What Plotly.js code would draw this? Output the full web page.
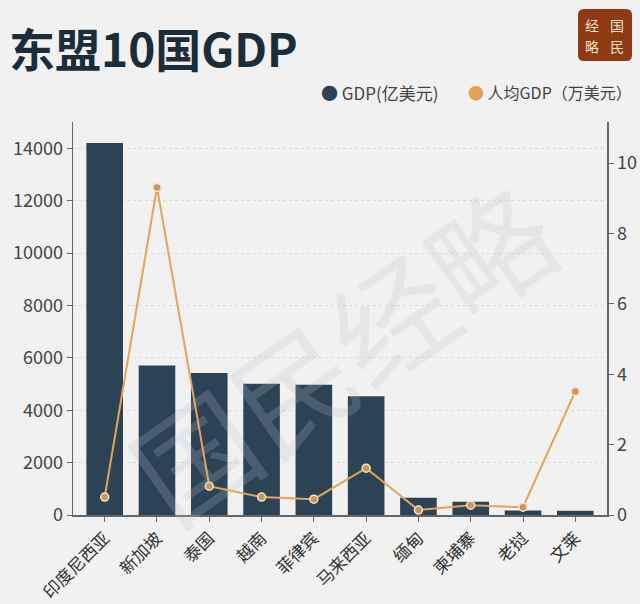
<!DOCTYPE html>
<html><head><meta charset="utf-8">
<script src="https://cdn.plot.ly/plotly-3.0.1.min.js"></script>
<style>html,body{margin:0;padding:0;background:#F1F1F1;}#chart{width:640px;height:604px;}</style>
</head><body><div id="chart"></div>
<script>
const categories = ['印度尼西亚','新加坡','泰国','越南','菲律宾','马来西亚','缅甸','柬埔寨','老挝','文莱'];
const gdpValues = [14200, 5710, 5420, 5010, 4970, 4530, 660, 510, 170, 165];
const perCapitaValues = [0.51, 9.31, 0.82, 0.51, 0.45, 1.33, 0.14, 0.28, 0.22, 3.51];
const seriesNames = ['GDP(亿美元)', '人均GDP（万美元）'];
const leftTicks = [0, 2000, 4000, 6000, 8000, 10000, 12000, 14000];
const rightTicks = [0, 2, 4, 6, 8, 10];

const font = 'Noto Sans CJK SC, Noto Sans, sans-serif';
const barColor = '#2C4356';
const lineColor = '#E3A457';
const W = 534, H = 393, L = 73, T = 122;
const px = v => (v - L) / W;
const py = v => 1 + (T - v) / H;

// rounded logo box path in paper coordinates
function roundRect(x0, y0, x1, y1, r) {
  const a = px(x0), b = px(x1), c = py(y0), d = py(y1);
  const rx = r / W, ry = r / H;
  return `M ${a+rx} ${c} L ${b-rx} ${c} Q ${b} ${c} ${b} ${c-ry} L ${b} ${d+ry} Q ${b} ${d} ${b-rx} ${d} ` +
         `L ${a+rx} ${d} Q ${a} ${d} ${a} ${d+ry} L ${a} ${c-ry} Q ${a} ${c} ${a+rx} ${c} Z`;
}

const traces = [
  {type:'bar', x:categories, y:gdpValues, name:seriesNames[0], marker:{color:barColor}, yaxis:'y', showlegend:false},
  {type:'scatter', mode:'lines+markers', x:categories, y:perCapitaValues, name:seriesNames[1], yaxis:'y2',
   line:{color:lineColor, width:2}, marker:{size:8, color:'#C9965E', line:{color:'#F3E3C8', width:1.5}}, showlegend:false}
];

function logoChar(t, x, y) {
  return {xref:'paper', yref:'paper', x:px(x), y:py(y), xanchor:'center', yanchor:'middle', text:t, showarrow:false,
          font:{size:14, color:'#F5E0C8', family:font}};
}

const layout = {
  width:640, height:604,
  paper_bgcolor:'#F1F1F1', plot_bgcolor:'#F1F1F1',
  margin:{l:73, r:33, t:122, b:89},
  font:{family:font, color:'#444'},
  bargap:0.3,
  xaxis:{type:'category', tickangle:-45, tickfont:{size:17, color:'#333'}, showline:true, linecolor:'#666', linewidth:1.5,
         ticks:'outside', ticklen:5, tickcolor:'#666', showgrid:false, zeroline:false},
  yaxis:{range:[0,15000], tickvals:leftTicks, ticktext:leftTicks.map(String), tickfont:{size:18, color:'#444'},
         showline:true, linecolor:'#666', linewidth:1.5, ticks:'outside', ticklen:5, tickcolor:'#666',
         showgrid:true, gridcolor:'#DADADA', griddash:'dot', gridwidth:1, zeroline:false},
  yaxis2:{range:[0,11.17], overlaying:'y', side:'right', tickvals:rightTicks, ticktext:rightTicks.map(String),
          tickfont:{size:18, color:'#444'}, showline:true, linecolor:'#666', linewidth:1.5, ticks:'outside', ticklen:5,
          tickcolor:'#666', showgrid:false, zeroline:false},
  shapes:[
    {type:'path', xref:'paper', yref:'paper', path:roundRect(578, 9, 632, 61, 6),
     fillcolor:'#8E3A12', line:{width:0}, layer:'below'}
  ],
  annotations:[
    {xref:'paper', yref:'paper', x:0.5, y:0.42, xanchor:'center', yanchor:'middle', text:'国民经略', showarrow:false, textangle:-35,
     font:{size:120, color:'rgba(185,193,199,0.22)', family:'Noto Sans CJK SC'}},
    {xref:'paper', yref:'paper', x:px(7), xanchor:'left', y:py(47), yanchor:'middle',
     text:'<b>东盟10国GDP</b>', showarrow:false, font:{size:46, color:'#1C2D3A', family:font}},
    logoChar('经', 592, 25), logoChar('国', 617, 25), logoChar('略', 592, 46), logoChar('民', 617, 46),
    {xref:'paper', yref:'paper', x:px(319), xanchor:'left', y:py(92), yanchor:'middle',
     text:'<span style="color:'+barColor+'">●</span> '+seriesNames[0], showarrow:false, font:{size:17, color:'#444', family:font}},
    {xref:'paper', yref:'paper', x:px(466), xanchor:'left', y:py(92), yanchor:'middle',
     text:'<span style="color:'+lineColor+'">●</span> '+seriesNames[1], showarrow:false, font:{size:16, color:'#444', family:font}}
  ]
};

Plotly.newPlot('chart', traces, layout, {displayModeBar:false, staticPlot:true});
</script></body></html>
